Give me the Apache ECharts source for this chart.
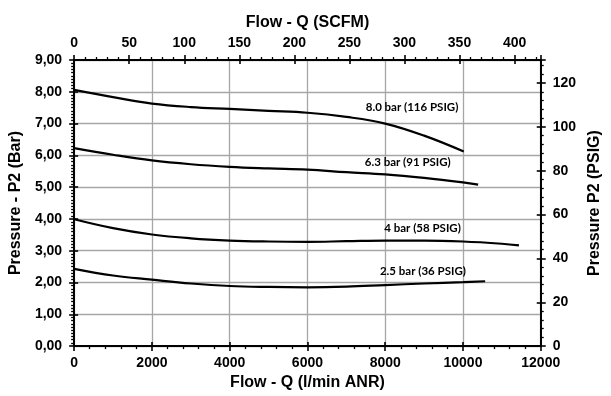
<!DOCTYPE html>
<html>
<head>
<meta charset="utf-8">
<script src="https://cdn.jsdelivr.net/npm/echarts@6/dist/echarts.min.js"></script>
<style>
html,body{margin:0;padding:0;background:#fff;}
#chart{width:611px;height:396px;}
</style>
</head>
<body>
<div id="chart"></div>
<script>
// Flow in l/min ANR (x) and outlet pressure in bar (y)
var flow80 = [0, 1000, 2000, 3000, 4000, 5000, 6000, 7000, 8000, 9000, 10020];
var p80    = [8.06, 7.83, 7.63, 7.52, 7.46, 7.40, 7.34, 7.21, 7.00, 6.62, 6.12];

var flow63 = [0, 1000, 2000, 3000, 4000, 5000, 6000, 7000, 8000, 9000, 10000, 10390];
var p63    = [6.23, 6.02, 5.84, 5.72, 5.64, 5.59, 5.55, 5.47, 5.40, 5.29, 5.15, 5.08];

var flow40 = [0, 1000, 2000, 3000, 4000, 5000, 6000, 7000, 8000, 9000, 10000, 11000, 11440];
var p40    = [3.99, 3.71, 3.51, 3.39, 3.32, 3.29, 3.28, 3.30, 3.32, 3.32, 3.29, 3.22, 3.17];

var flow25 = [0, 1000, 2000, 3000, 4000, 5000, 6000, 7000, 8000, 9000, 10000, 10570];
var p25    = [2.43, 2.22, 2.09, 1.97, 1.89, 1.86, 1.85, 1.87, 1.92, 1.97, 2.01, 2.04];

var curveLabels = ['8.0 bar (116 PSIG)', '6.3 bar (91 PSIG)', '4 bar (58 PSIG)', '2.5 bar (36 PSIG)'];
var labelFlow   = [8690, 8580, 8960, 8970];
var labelP      = [7.52, 5.79, 3.71, 2.35];

var flowMax = 12000;       // l/min ANR
var pMax = 9;              // bar
var LPM_PER_SCFM = 28.317;
var PSI_PER_BAR = 14.5038;

function pairs(xs, ys){ return xs.map(function(x,i){ return [x, ys[i]]; }); }

var tickFont = {fontFamily:'Liberation Sans, Arial, sans-serif', fontWeight:'bold', fontSize:14, color:'#000'};
var titleFont = {fontFamily:'Liberation Sans, Arial, sans-serif', fontWeight:'bold', fontSize:16, color:'#000'};
var axisLineStyle = {show:true, onZero:false, lineStyle:{color:'#000', width:2}};
var gridStyle = {show:true, lineStyle:{color:'#a6a6a6', width:1.3}};
var majorTick = {show:true, inside:false, length:5, lineStyle:{color:'#000', width:1.6}};
function minorTick(n){ return {show:true, splitNumber:n, length:3, lineStyle:{color:'#000', width:1.3}}; }

function innerTickAxis(base){
  return Object.assign({
    type:'value',
    axisLine:{show:false, onZero:false},
    axisLabel:{show:false},
    splitLine:{show:false},
    axisTick:{show:true, inside:true, length:4, lineStyle:{color:'#000', width:1.6}},
    minorTick:{show:false}
  }, base);
}

var series = [];
var datasets = [pairs(flow80,p80), pairs(flow63,p63), pairs(flow40,p40), pairs(flow25,p25)];
datasets.forEach(function(d, i){
  series.push({
    type:'line',
    xAxisIndex:0, yAxisIndex:0,
    data:d,
    smooth:0.4,
    showSymbol:false,
    symbol:'none',
    lineStyle:{color:'#000', width:2.2},
    silent:true,
    markPoint:{
      symbol:'circle', symbolSize:0,
      silent:true,
      label:{
        show:true, position:'inside',
        formatter:curveLabels[i],
        fontFamily:'Lato, Liberation Sans, sans-serif', fontWeight:'bold', fontSize:11.5, color:'#000'
      },
      data:[{coord:[labelFlow[i], labelP[i]]}]
    }
  });
});

var option = {
  backgroundColor:'#fff',
  animation:false,
  grid:{left:72, right:64.5, top:60, bottom:45, containLabel:false},
  xAxis:[
    {
      type:'value', position:'bottom', min:0, max:flowMax, interval:2000,
      name:'Flow - Q (l/min ANR)', nameLocation:'middle', nameGap:24, nameTextStyle:titleFont,
      axisLine:axisLineStyle,
      axisTick:majorTick,
      minorTick:minorTick(5),
      axisLabel:Object.assign({margin:10, formatter:function(v){ return String(Math.round(v)); }}, tickFont),
      splitLine:gridStyle
    },
    {
      type:'value', position:'top', min:0, max:flowMax/LPM_PER_SCFM, interval:50,
      name:'Flow - Q (SCFM)', nameLocation:'middle', nameGap:29, nameTextStyle:titleFont,
      axisLine:axisLineStyle,
      axisTick:majorTick,
      minorTick:minorTick(5),
      axisLabel:Object.assign({margin:10, formatter:function(v){ return (Math.abs(v%50)<1e-6)? String(Math.round(v)) : ''; }}, tickFont),
      splitLine:{show:false}
    },
    innerTickAxis({position:'bottom', min:0, max:flowMax, interval:2000}),
    innerTickAxis({position:'top', min:0, max:flowMax/LPM_PER_SCFM, interval:50})
  ],
  yAxis:[
    {
      type:'value', position:'left', min:0, max:pMax, interval:1,
      name:'Pressure - P2 (Bar)', nameLocation:'middle', nameGap:44, nameTextStyle:titleFont,
      axisLine:axisLineStyle,
      axisTick:majorTick,
      minorTick:minorTick(10),
      axisLabel:Object.assign({margin:12, formatter:function(v){ return v.toFixed(2).replace('.', ','); }}, tickFont),
      splitLine:gridStyle
    },
    {
      type:'value', position:'right', min:0, max:pMax*PSI_PER_BAR, interval:20,
      name:'Pressure P2 (PSIG)', nameLocation:'middle', nameGap:42, nameTextStyle:titleFont,
      axisLine:axisLineStyle,
      axisTick:majorTick,
      minorTick:minorTick(5),
      axisLabel:Object.assign({margin:12, formatter:function(v){ return (Math.abs(v%20)<1e-6)? String(Math.round(v)) : ''; }}, tickFont),
      splitLine:{show:false}
    },
    innerTickAxis({position:'left', min:0, max:pMax, interval:1}),
    innerTickAxis({position:'right', min:0, max:pMax*PSI_PER_BAR, interval:20})
  ],
  series:series
};

var chart = echarts.init(document.getElementById('chart'), null, {renderer:'canvas'});
chart.setOption(option);
</script>
</body>
</html>
